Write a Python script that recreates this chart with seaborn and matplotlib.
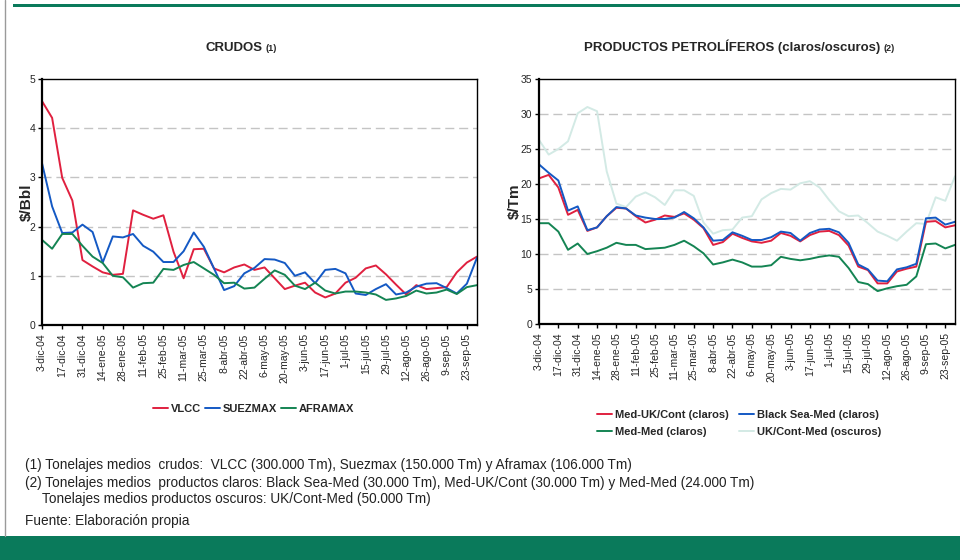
import matplotlib
matplotlib.use("Agg")
import matplotlib.pyplot as plt
import seaborn as sns
import pandas as pd
from matplotlib.lines import Line2D
from matplotlib.patches import Rectangle

# Weekly freight rates, 3-dic-04 .. 30-sep-05
tick_labels = ["3-dic-04", "17-dic-04", "31-dic-04", "14-ene-05", "28-ene-05",
               "11-feb-05", "25-feb-05", "11-mar-05", "25-mar-05", "8-abr-05",
               "22-abr-05", "6-may-05", "20-may-05", "3-jun-05", "17-jun-05",
               "1-jul-05", "15-jul-05", "29-jul-05", "12-ago-05", "26-ago-05",
               "9-sep-05", "23-sep-05"]

# Crudos ($/Bbl)
vlcc = [4.55, 4.21, 2.99, 2.53, 1.32, 1.19, 1.07, 1.02, 1.04, 2.33, 2.24, 2.16,
        2.23, 1.49, 0.95, 1.54, 1.55, 1.15, 1.07, 1.17, 1.23, 1.12, 1.17, 0.95,
        0.73, 0.80, 0.86, 0.66, 0.56, 0.64, 0.86, 0.96, 1.15, 1.21, 1.03, 0.82,
        0.62, 0.81, 0.73, 0.75, 0.77, 1.07, 1.27, 1.39]
suezmax = [3.29, 2.41, 1.87, 1.88, 2.04, 1.89, 1.27, 1.80, 1.78, 1.85, 1.61, 1.49,
           1.28, 1.28, 1.50, 1.88, 1.59, 1.15, 0.71, 0.79, 1.05, 1.16, 1.34, 1.33,
           1.26, 1.00, 1.07, 0.85, 1.12, 1.14, 1.05, 0.64, 0.61, 0.73, 0.83, 0.62,
           0.66, 0.78, 0.84, 0.85, 0.75, 0.64, 0.84, 1.37]
aframax = [1.73, 1.55, 1.85, 1.85, 1.61, 1.39, 1.26, 1.00, 0.97, 0.76, 0.85, 0.86,
           1.14, 1.12, 1.22, 1.28, 1.15, 1.02, 0.85, 0.86, 0.74, 0.76, 0.94, 1.11,
           1.02, 0.80, 0.73, 0.86, 0.70, 0.64, 0.68, 0.68, 0.66, 0.62, 0.51, 0.54,
           0.59, 0.70, 0.64, 0.66, 0.72, 0.63, 0.77, 0.81]

# Productos petrolíferos ($/Tm)
med_ukcont = [20.8, 21.3, 19.5, 15.6, 16.3, 13.3, 13.8, 15.4, 16.6, 16.5, 15.4,
              14.5, 14.9, 15.5, 15.3, 15.8, 14.9, 13.7, 11.3, 11.7, 12.9, 12.3,
              11.8, 11.6, 11.9, 13.0, 12.6, 11.8, 12.7, 13.2, 13.3, 12.7, 11.2,
              8.2, 7.7, 5.8, 5.8, 7.5, 7.9, 8.2, 14.6, 14.7, 13.8, 14.1]
blacksea_med = [22.8, 21.6, 20.5, 16.2, 16.8, 13.4, 13.8, 15.4, 16.7, 16.5, 15.5,
                15.2, 15.0, 15.0, 15.2, 16.0, 15.1, 13.8, 11.9, 12.0, 13.1, 12.6,
                12.0, 12.0, 12.4, 13.2, 13.0, 11.9, 13.0, 13.5, 13.6, 13.1, 11.6,
                8.5, 7.8, 6.2, 6.1, 7.8, 8.1, 8.6, 15.1, 15.2, 14.2, 14.6]
med_med = [14.4, 14.4, 13.2, 10.6, 11.5, 10.0, 10.4, 10.9, 11.6, 11.3, 11.3,
           10.7, 10.8, 10.9, 11.3, 11.9, 11.1, 10.1, 8.5, 8.8, 9.2, 8.8,
           8.2, 8.2, 8.4, 9.6, 9.3, 9.1, 9.3, 9.6, 9.8, 9.6, 8.0,
           6.0, 5.7, 4.7, 5.1, 5.4, 5.6, 6.8, 11.4, 11.5, 10.8, 11.3]
ukcont_med = [26.3, 24.2, 25.0, 26.1, 30.1, 31.0, 30.4, 21.8, 17.2, 16.7, 18.2,
              18.8, 18.1, 17.0, 19.1, 19.1, 18.3, 14.5, 12.9, 13.4, 13.5, 15.2,
              15.4, 17.8, 18.7, 19.3, 19.2, 20.1, 20.4, 19.5, 17.7, 16.1, 15.4,
              15.5, 14.4, 13.2, 12.6, 11.9, 13.2, 14.4, 14.3, 18.1, 17.6, 21.1]

crude_names = ["VLCC", "SUEZMAX", "AFRAMAX"]
crude_series = [vlcc, suezmax, aframax]
prod_names = ["UK/Cont-Med (oscuros)", "Med-Med (claros)",
              "Med-UK/Cont (claros)", "Black Sea-Med (claros)"]
prod_series = [ukcont_med, med_med, med_ukcont, blacksea_med]

RED = "#e0203f"
BLUE = "#1459c4"
GREEN = "#148453"
LIGHT = "#d3eae5"
BAND = "#0a7a5b"

crude_colors = dict(zip(crude_names, [RED, BLUE, GREEN]))
prod_colors = dict(zip(prod_names, [LIGHT, GREEN, RED, BLUE]))


def long_frame(names, series):
    rows = []
    for name, vals in zip(names, series):
        for week, v in enumerate(vals):
            rows.append({"semana": week, "valor": v, "serie": name})
    return pd.DataFrame(rows)


crude_df = long_frame(crude_names, crude_series)
prod_df = long_frame(prod_names, prod_series)

sns.set_theme(style="white")
plt.rcParams["font.family"] = ["Liberation Sans", "DejaVu Sans"]

fig = plt.figure(figsize=(9.6, 5.6), dpi=100)
W, H = 960.0, 560.0


def axes_px(x0, y0, x1, y1):
    return fig.add_axes([x0 / W, 1 - y1 / H, (x1 - x0) / W, (y1 - y0) / H])


ax1 = axes_px(42, 79, 477, 325)
ax2 = axes_px(539, 79, 955, 324)

sns.lineplot(data=crude_df, x="semana", y="valor", hue="serie",
             hue_order=crude_names, palette=crude_colors, linewidth=1.4,
             legend=False, ax=ax1)
sns.lineplot(data=prod_df, x="semana", y="valor", hue="serie",
             hue_order=prod_names, palette=prod_colors, linewidth=1.4,
             legend=False, ax=ax2)

n = len(vlcc)
for ax, top, step in [(ax1, 5, 1), (ax2, 35, 5)]:
    ax.set_xlim(0, n - 1)
    ax.set_ylim(0, top)
    ax.set_yticks(range(0, top + 1, step))
    ax.set_xticks(range(0, n - 1, 2))
    ax.set_xticklabels(tick_labels, rotation=90, fontsize=7.5)
    ax.tick_params(axis="y", labelsize=7.5, length=3, width=1, direction="out",
                   pad=2, left=True, color="black")
    ax.tick_params(axis="x", length=3, width=1, direction="out", pad=3,
                   bottom=True, color="black")
    ax.set_xlabel("")
    for y in range(step, top, step):
        ax.axhline(y, color="#c4c4c4", linewidth=1.0, linestyle=(0, (6.5, 3.5)),
                   zorder=0)
    for side in ["left", "bottom"]:
        ax.spines[side].set_linewidth(1.6)
        ax.spines[side].set_color("black")
    for side in ["top", "right"]:
        ax.spines[side].set_linewidth(1.0)
        ax.spines[side].set_color("black")

ax1.set_ylabel("$/Bbl", fontsize=11, fontweight="bold", labelpad=-3)
ax2.set_ylabel("$/Tm", fontsize=11, fontweight="bold", labelpad=-1)

# Titles
fig.text(262 / W, 1 - 51 / H, "CRUDOS", ha="right", va="baseline",
         fontsize=9.5, fontweight="bold")
fig.text(265 / W, 1 - 51 / H, "(1)", ha="left", va="baseline",
         fontsize=6.5, fontweight="bold")
fig.text(880 / W, 1 - 51 / H, "PRODUCTOS PETROLÍFEROS (claros/oscuros)",
         ha="right", va="baseline", fontsize=9.5, fontweight="bold")
fig.text(883 / W, 1 - 51 / H, "(2)", ha="left", va="baseline",
         fontsize=6.5, fontweight="bold")

# Legends
leg_font = {"weight": "bold", "size": 8}
h1 = [Line2D([], [], color=crude_colors[k], lw=1.4) for k in crude_names]
fig.legend(h1, crude_names, loc="center", bbox_to_anchor=(253.5 / W, 1 - 409 / H),
           ncol=3, frameon=False, prop=leg_font, handlelength=1.35,
           handletextpad=0.25, columnspacing=0.35)
order = ["Med-UK/Cont (claros)", "Med-Med (claros)",
         "Black Sea-Med (claros)", "UK/Cont-Med (oscuros)"]
h2 = [Line2D([], [], color=prod_colors[k], lw=1.4) for k in order]
fig.legend(h2, order, loc="center", bbox_to_anchor=(739 / W, 1 - 423.5 / H),
           ncol=2, frameon=False, prop=leg_font, handlelength=1.35,
           handletextpad=0.25, columnspacing=0.9, labelspacing=0.65)

# Footnotes
notes = [
    (25, 469, "(1) Tonelajes medios  crudos:  VLCC (300.000 Tm), Suezmax (150.000 Tm) y Aframax (106.000 Tm)"),
    (25, 487, "(2) Tonelajes medios  productos claros: Black Sea-Med (30.000 Tm), Med-UK/Cont (30.000 Tm) y Med-Med (24.000 Tm)"),
    (42, 503, "Tonelajes medios productos oscuros: UK/Cont-Med (50.000 Tm)"),
    (25, 525, "Fuente: Elaboración propia"),
]
for x, y, s in notes:
    fig.text(x / W, 1 - y / H, s, ha="left", va="baseline", fontsize=9.8,
             color="#222222")

# Page decoration: top rule, left border, bottom band
fig.add_artist(Rectangle((13 / W, 1 - 7 / H), 1, 3.5 / H, transform=fig.transFigure,
                         color=BAND, lw=0))
fig.add_artist(Line2D([4.5 / W, 4.5 / W], [1 - 536 / H, 1], transform=fig.transFigure,
                      color="#9a9a9a", lw=1.0))
fig.add_artist(Rectangle((0, 0), 1, 24 / H, transform=fig.transFigure,
                         color=BAND, lw=0))

fig.savefig("out.png", dpi=100)
